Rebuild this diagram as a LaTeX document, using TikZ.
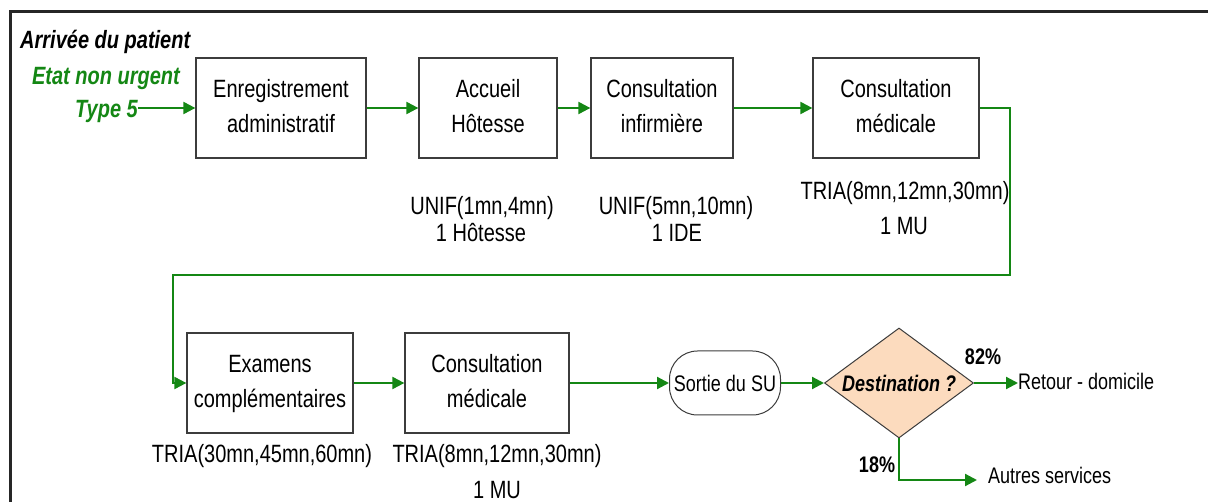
\documentclass[tikz,border=0pt]{standalone}
\usepackage{fontspec}
\setmainfont{Liberation Sans}
\usepackage{graphicx}
\usetikzlibrary{arrows.meta,shapes.geometric}
\definecolor{flowgreen}{RGB}{20,135,20}
\definecolor{boxline}{RGB}{60,60,60}
\definecolor{peach}{RGB}{252,219,190}
\newcommand\vst[1]{\scalebox{1}[1.25]{#1}}
\newcommand\twol[2]{\vst{\begin{tabular}{@{}c@{}}#1\\#2\end{tabular}}}
\begin{document}
\begin{tikzpicture}[x=1pt,y=-1pt,
  stepbox/.style={draw=boxline,line width=1.3pt,rectangle,inner sep=0pt,minimum height=100pt,font=\fontsize{20}{28}\selectfont},
  lbl/.style={inner sep=0pt,anchor=base,font=\fontsize{20}{24}\selectfont},
  pct/.style={inner sep=0pt,anchor=base,font=\bfseries\fontsize{18}{22}\selectfont},
  outtxt/.style={inner sep=0pt,anchor=base west,font=\fontsize{18}{22}\selectfont},
  arr/.style={draw=flowgreen,line width=2.2pt,-{Triangle[length=12pt,width=12pt]}}]
\useasboundingbox (0,0) rectangle (1208,502);
\draw[line width=3pt,draw=black!85] (10,502) -- (10,12) -- (1208,12);

\node[anchor=base west,inner sep=0pt,font=\bfseries\itshape\fontsize{20}{24}\selectfont] (arrivee) at (20,49) {\vst{Arrivée du patient}};
\node[anchor=base east,inner sep=0pt,text=flowgreen,font=\bfseries\itshape\fontsize{20}{24}\selectfont] (etat) at (180,85) {\vst{Etat non urgent}};
\node[anchor=base east,inner sep=0pt,text=flowgreen,font=\bfseries\itshape\fontsize{20}{24}\selectfont] (t5) at (138,118) {\vst{Type 5}};

\node[stepbox,minimum width=170pt] (b1) at (281,108) {\twol{Enregistrement}{administratif}};
\node[stepbox,minimum width=138pt] (b2) at (488,108) {\twol{Accueil}{Hôtesse}};
\node[stepbox,minimum width=142pt] (b3) at (662,108) {\twol{Consultation}{infirmière}};
\node[stepbox,minimum width=166pt] (b4) at (896,108) {\twol{Consultation}{médicale}};
\node[stepbox,minimum width=166pt] (b5) at (270,383) {\twol{Examens}{complémentaires}};
\node[stepbox,minimum width=164pt] (b6) at (487,383) {\twol{Consultation}{médicale}};

\node[draw=boxline,line width=1pt,rounded corners=28pt,minimum width=111pt,minimum height=64pt,inner sep=0pt,font=\fontsize{18}{22}\selectfont] (so) at (725,383) {\vst{Sortie du SU}};
\node[diamond,draw=boxline,line width=1pt,fill=peach,minimum width=149pt,minimum height=110pt,inner sep=0pt,aspect=1.35,font=\bfseries\itshape\fontsize{18}{22}\selectfont] (dst) at (899,383) {\vst{Destination ?}};

\node[lbl] (l2a) at (482,215) {\vst{UNIF(1mn,4mn)}};
\node[lbl] (l2b) at (481,242) {\vst{1 Hôtesse}};
\node[lbl] (l3a) at (676,215) {\vst{UNIF(5mn,10mn)}};
\node[lbl] (l3b) at (677,242) {\vst{1 IDE}};
\node[lbl] (l4a) at (905,200) {\vst{TRIA(8mn,12mn,30mn)}};
\node[lbl] (l4b) at (904,235) {\vst{1 MU}};
\node[lbl] (l5a) at (262,463) {\vst{TRIA(30mn,45mn,60mn)}};
\node[lbl] (l6a) at (497,463) {\vst{TRIA(8mn,12mn,30mn)}};
\node[lbl] (l6b) at (497,499) {\vst{1 MU}};

\node[pct] (p82) at (983,365) {\vst{82\%}};
\node[pct] (p18) at (877,472) {\vst{18\%}};
\node[outtxt] (ret) at (1018,390) {\vst{Retour - domicile}};
\node[outtxt] (aut) at (988,483) {\vst{Autres services}};

\coordinate (c1) at (1010,275);
\coordinate (c2) at (173,275);
\coordinate (c3) at (977,480);

\draw[arr] (t5.east |- b1.west) -- (b1.west);
\draw[arr] (b1.east) -- (b2.west);
\draw[arr] (b2.east) -- (b3.west);
\draw[arr] (b3.east) -- (b4.west);
\draw[arr] (b4.east) -| (c1) -- (c2) |- (b5.west);
\draw[arr] (b5.east) -- (b6.west);
\draw[arr] (b6.east) -- (so.west);
\draw[arr] (so.east) -- (dst.west);
\draw[arr] (dst.east) -- (ret.west |- dst.east);
\draw[arr] (dst.south) |- (c3);
\end{tikzpicture}
\end{document}
